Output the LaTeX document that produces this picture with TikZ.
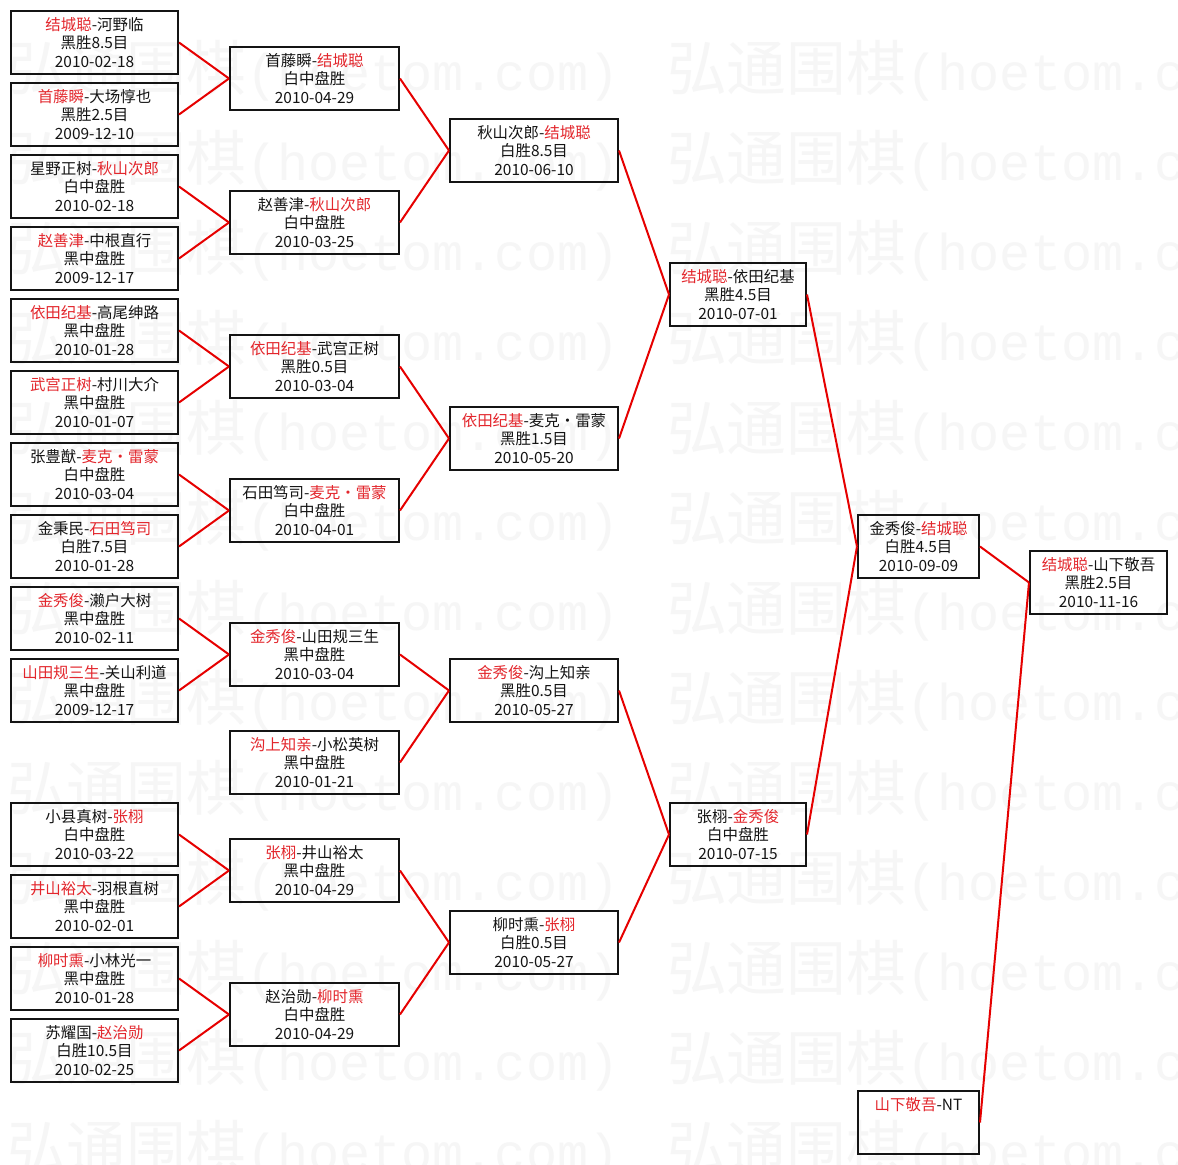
\documentclass[tikz,border=0pt]{standalone}
\usepackage{fontspec}
\newfontfamily\cjk{Noto Sans CJK SC}
\newfontfamily\wmmono{Liberation Mono}
\definecolor{ink}{HTML}{141414}
\definecolor{winred}{HTML}{E3262C}
\definecolor{linkred}{HTML}{E60000}
\definecolor{wmgray}{HTML}{F6F6F6}
\newcommand{\win}[1]{\textcolor{winred}{#1}}
\tikzset{
  game/.style={draw=ink,line width=2bp,align=center,text=ink,
    font=\cjk\fontsize{15.5}{18.5}\selectfont,minimum height=63bp,inner sep=2bp},
  colA/.style={game,minimum width=167bp},
  colB/.style={game,minimum width=169bp},
  colC/.style={game,minimum width=168bp},
  colD/.style={game,minimum width=136bp},
  colE/.style={game,minimum width=121bp},
  colF/.style={game,minimum width=137bp},
  link/.style={draw=linkred,line width=2bp},
  wmtext/.style={anchor=base west,inner sep=0pt,text=wmgray},
}

\begin{document}
\begin{tikzpicture}[x=1bp,y=-1bp]
  \fill[white] (0,0) rectangle (1178,1165);
  \useasboundingbox (0,0) rectangle (1178,1165);
  % watermark
  \begin{scope}
    \clip (0,0) rectangle (1178,1165);
    \foreach \k in {0,...,12}{
      \node[wmtext] (wl\k) at (7,90+90*\k) {\cjk\fontsize{60}{60}\selectfont 弘通围棋\wmmono\fontsize{52}{52}\selectfont(hoetom.com)};
      \node[wmtext] (wr\k) at (667,90+90*\k) {\cjk\fontsize{60}{60}\selectfont 弘通围棋\wmmono\fontsize{52}{52}\selectfont(hoetom.com)};
    }
  \end{scope}
  % round 1
  \foreach \nm/\k/\who/\how/\when in {
    p1/0/{\win{结城聪}-河野临}/黑胜8.5目/2010-02-18,
    p2/2/{\win{首藤瞬}-大场惇也}/黑胜2.5目/2009-12-10,
    p3/4/{星野正树-\win{秋山次郎}}/白中盘胜/2010-02-18,
    p4/6/{\win{赵善津}-中根直行}/黑中盘胜/2009-12-17,
    p5/8/{\win{依田纪基}-高尾绅路}/黑中盘胜/2010-01-28,
    p6/10/{\win{武宫正树}-村川大介}/黑中盘胜/2010-01-07,
    p7/12/{张豊猷-\win{麦克・雷蒙}}/白中盘胜/2010-03-04,
    p8/14/{金秉民-\win{石田笃司}}/白胜7.5目/2010-01-28,
    p9/16/{\win{金秀俊}-濑户大树}/黑中盘胜/2010-02-11,
    p10/18/{\win{山田规三生}-关山利道}/黑中盘胜/2009-12-17,
    p11/22/{小县真树-\win{张栩}}/白中盘胜/2010-03-22,
    p12/24/{\win{井山裕太}-羽根直树}/黑中盘胜/2010-02-01,
    p13/26/{\win{柳时熏}-小林光一}/黑中盘胜/2010-01-28,
    p14/28/{苏耀国-\win{赵治勋}}/白胜10.5目/2010-02-25}{
    \node[colA] (\nm) at (94.5,42.5+36*\k) {\who\\\how\\\when};
  }
  % round 2
  \foreach \nm/\k/\who/\how/\when in {
    s1/1/{首藤瞬-\win{结城聪}}/白中盘胜/2010-04-29,
    s2/5/{赵善津-\win{秋山次郎}}/白中盘胜/2010-03-25,
    s3/9/{\win{依田纪基}-武宫正树}/黑胜0.5目/2010-03-04,
    s4/13/{石田笃司-\win{麦克・雷蒙}}/白中盘胜/2010-04-01,
    s5/17/{\win{金秀俊}-山田规三生}/黑中盘胜/2010-03-04,
    s6/20/{\win{沟上知亲}-小松英树}/黑中盘胜/2010-01-21,
    s7/23/{\win{张栩}-井山裕太}/黑中盘胜/2010-04-29,
    s8/27/{赵治勋-\win{柳时熏}}/白中盘胜/2010-04-29}{
    \node[colB] (\nm) at (314.5,42.5+36*\k) {\who\\\how\\\when};
  }
  % quarter finals
  \foreach \nm/\k/\who/\how/\when in {
    qf1/3/{秋山次郎-\win{结城聪}}/白胜8.5目/2010-06-10,
    qf2/11/{\win{依田纪基}-麦克・雷蒙}/黑胜1.5目/2010-05-20,
    qf3/18/{\win{金秀俊}-沟上知亲}/黑胜0.5目/2010-05-27,
    qf4/25/{柳时熏-\win{张栩}}/白胜0.5目/2010-05-27}{
    \node[colC] (\nm) at (534,42.5+36*\k) {\who\\\how\\\when};
  }
  % semi finals and final
  \node[colD] (sf1) at (738,42.5+36*7) {\win{结城聪}-依田纪基\\黑胜4.5目\\2010-07-01};
  \node[colD] (sf2) at (738,42.5+36*22) {张栩-\win{金秀俊}\\白中盘胜\\2010-07-15};
  \node[colE] (fin) at (918.5,42.5+36*14) {金秀俊-\win{结城聪}\\白胜4.5目\\2010-09-09};
  \node[colE] (hold) at (918.5,42.5+36*30) {\win{山下敬吾}-NT\\\null\\\null};
  \node[colF] (title) at (1098.5,42.5+36*15) {\win{结城聪}-山下敬吾\\黑胜2.5目\\2010-11-16};
  % bracket lines
  \foreach \a/\b in {p1/s1,p2/s1,p3/s2,p4/s2,p5/s3,p6/s3,p7/s4,p8/s4,
    p9/s5,p10/s5,p11/s7,p12/s7,p13/s8,p14/s8,
    s1/qf1,s2/qf1,s3/qf2,s4/qf2,s5/qf3,s6/qf3,s7/qf4,s8/qf4,
    qf1/sf1,qf2/sf1,qf3/sf2,qf4/sf2,sf1/fin,sf2/fin,fin/title,hold/title}{
    \draw[link] (\a.east) -- (\b.west);
  }
\end{tikzpicture}
\end{document}
